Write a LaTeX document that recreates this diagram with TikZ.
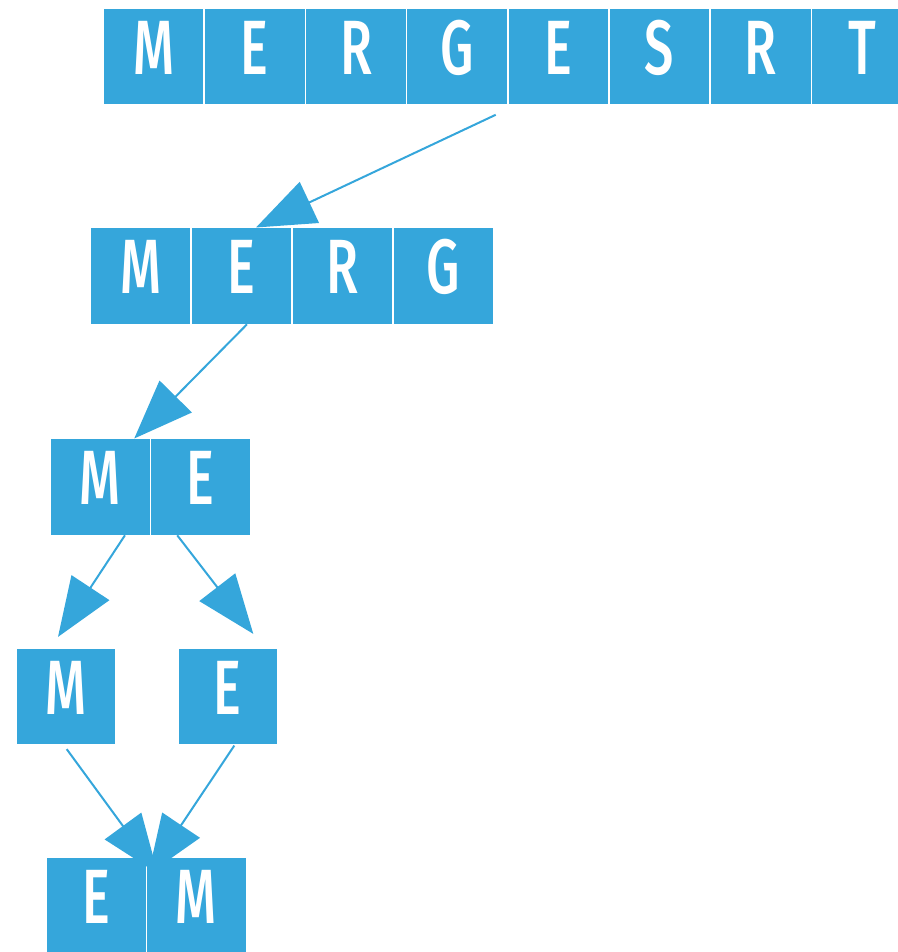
\documentclass[tikz,border=0pt]{standalone}
\usepackage{fontspec}
\setmainfont{Fira Sans}[BoldFont={Fira Sans Medium}]
\usetikzlibrary{arrows.meta,calc}
\definecolor{cellblue}{RGB}{53,166,219}
\newcommand\cellfont{\fontsize{77}{80}\selectfont\bfseries}
\newcommand\ltr[1]{\scalebox{0.68}[1]{#1}}
\tikzset{
  cell/.style={rectangle, fill=cellblue, draw=white, line width=1.6pt,
    minimum width=#1, minimum height=96.8pt, inner sep=0pt, outer sep=0pt,
    text=white, text height=53pt, text depth=18pt, font=\cellfont},
  cell/.default=100.5pt,
  link/.style={draw=cellblue, line width=2pt,
    -{Triangle[length=59pt,width=45pt]}}
}
\begin{document}
\begin{tikzpicture}[x=1pt,y=-1pt]
\useasboundingbox (0,0) rectangle (897,952);

% full word
\node[cell=101.2pt] (a1) at (153.6,56.7) {\ltr{M}};
\node[cell=101.2pt] (a2) at (254.8,56.7) {\ltr{E}};
\node[cell=101.2pt] (a3) at (356.0,56.7) {\ltr{R}};
\node[cell=101.2pt] (a4) at (457.2,56.7) {\ltr{G}};
\node[cell=101.2pt] (a5) at (558.4,56.7) {\ltr{E}};
\node[cell=101.2pt] (a6) at (659.6,56.7) {\ltr{S}};
\node[cell=101.2pt] (a7) at (760.8,56.7) {\ltr{R}};
\node[cell=101.2pt] (a8) at (862.0,56.7) {\ltr{T}};

% left half
\node[cell=101pt] (b1) at (140.5,275.9) {\ltr{M}};
\node[cell=101pt] (b2) at (241.5,275.9) {\ltr{E}};
\node[cell=101pt] (b3) at (342.5,275.9) {\ltr{R}};
\node[cell=101pt] (b4) at (443.5,275.9) {\ltr{G}};

% quarter
\node[cell] (c1) at (100.25,486.9) {\ltr{M}};
\node[cell] (c2) at (200.75,486.9) {\ltr{E}};

% single letters
\node[cell=99.8pt] (d1) at (65.8,696.7) {\ltr{M}};
\node[cell=99.8pt] (d2) at (227.8,696.7) {\ltr{E}};

% merged pair
\node[cell=100.3pt] (e1) at (96.15,906) {\ltr{E}};
\node[cell=100.3pt] (e2) at (196.45,906) {\ltr{M}};

% splitting and merging steps
\draw[link] ($(a4.south east)+(-12.1,9.7)$) -- ($(b2.north)+(14.5,0)$);
\draw[link] ($(b2.south)+(5.5,0)$) -- ($(c1.north)+(34,0)$);
\draw[link] ($(c1.south)+(24.7,0)$) -- ($(d1.north)+(-7.8,-11.4)$);
\draw[link] ($(c2.south)+(-23.5,0)$) -- ($(d2.north)+(25.5,-14.4)$);
\draw[link] ($(d1.south)+(0.9,4)$) -- ($(e1.north east)+(11.5,16)$);
\draw[link] ($(d2.south)+(6.5,0.5)$) -- ($(e1.north east)+(2,16.6)$);
\end{tikzpicture}
\end{document}
